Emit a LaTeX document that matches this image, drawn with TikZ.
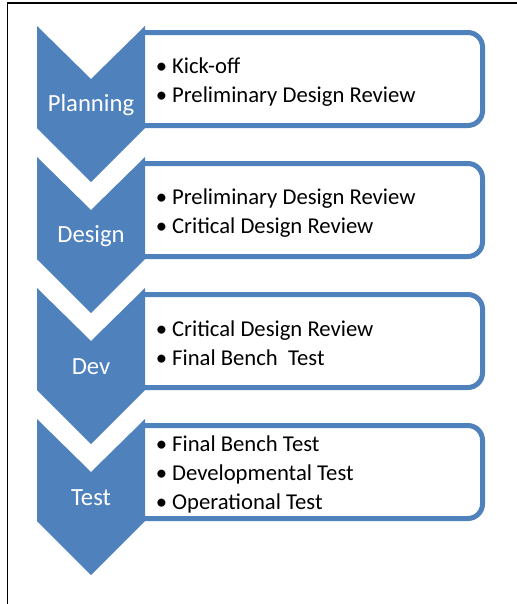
\documentclass[tikz,border=0pt]{standalone}
\usepackage{fontspec}
\setmainfont{Carlito}
\usetikzlibrary{positioning}

\definecolor{smartblue}{HTML}{4F81BD}

\begin{document}
\begin{tikzpicture}[x=0.75pt, y=-0.75pt,
    chev/.style={fill=smartblue, draw=none},
    card/.style={draw=smartblue, line width=3.75pt, rounded corners=11pt, fill=white,
      inner sep=0pt, minimum width=271.9pt, minimum height=69.75pt},
    stage/.style={text=white, inner sep=0pt, font=\fontsize{18.5}{22}\selectfont},
    items/.style={anchor=west, inner sep=0pt, align=left, yshift=-2pt,
      font=\fontsize{17}{21.75}\selectfont}]
  \useasboundingbox (0,0) rectangle (517,604);
  % Frame
  \draw[line width=1.2pt] (7.5,620) -- (7.5,3) -- (530,3);

  % Boxes (left side hidden behind the chevrons)
  \begin{scope}
    \clip (145,0) rectangle (517,604);
    \node[card] (planbox) at (301.25,79) {};
    \node[card] (designbox) at (301.25,210) {};
    \node[card] (devbox) at (301.25,341) {};
    \node[card] (testbox) at (301.25,472) {};
  \end{scope}

  % Chevrons
  \fill[chev] (37,26) -- (91,79) -- (145,26) -- (145,128) -- (91,182) -- (37,128) -- cycle;
  \fill[chev] (37,157) -- (91,210) -- (145,157) -- (145,259) -- (91,313) -- (37,259) -- cycle;
  \fill[chev] (37,288) -- (91,341) -- (145,288) -- (145,390) -- (91,444) -- (37,390) -- cycle;
  \fill[chev] (37,419) -- (91,472) -- (145,419) -- (145,521) -- (91,575) -- (37,521) -- cycle;

  % Stage names
  \node[stage] (planlbl) at (91,105) {Planning};
  \node[stage] (designlbl) at (91,236) {Design};
  \node[stage] (devlbl) at (91,367) {Dev};
  \node[stage] (testlbl) at (91,498) {Test};

  % Bullets
  \node[items, right=28.5pt of planbox.west] (planitems)
    {• Kick-off\\• Preliminary Design Review};
  \node[items, right=28.5pt of designbox.west] (designitems)
    {• Preliminary Design Review\\• Critical Design Review};
  \node[items, right=28.5pt of devbox.west] (devitems)
    {• Critical Design Review\\• Final Bench\ \ Test};
  \node[items, right=28.5pt of testbox.west] (testitems)
    {• Final Bench Test\\• Developmental Test\\• Operational Test};
\end{tikzpicture}
\end{document}
